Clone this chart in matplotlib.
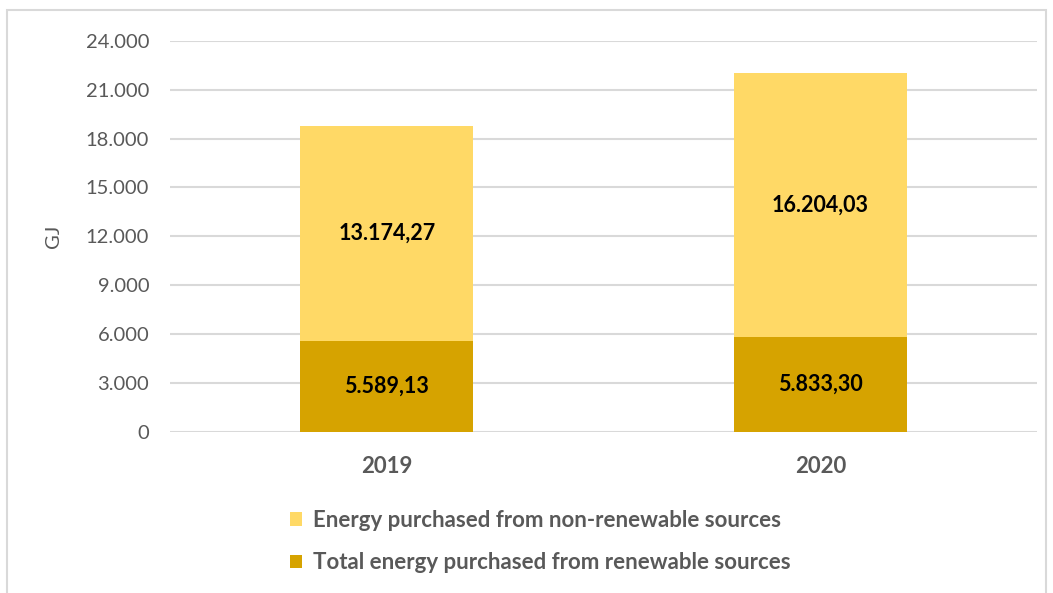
import matplotlib.pyplot as plt
from matplotlib.patches import Rectangle

plt.rcParams['font.family'] = ['Lato', 'DejaVu Sans']

years = ['2019', '2020']
renewable = [5589.13, 5833.30]
non_renewable = [13174.27, 16204.03]
yticks = [0, 3000, 6000, 9000, 12000, 15000, 18000, 21000, 24000]

label_top = 'Energy purchased from non-renewable sources'
label_bottom = 'Total energy purchased from renewable sources'

c_light = '#FFD966'
c_dark = '#D6A300'
grey_txt = '#595959'


def fmt_eu(v, dec=2):
    s = f'{v:,.{dec}f}'
    return s.replace(',', 'X').replace('.', ',').replace('X', '.')


fig = plt.figure(figsize=(10.53, 5.93), dpi=100)
ax = fig.add_axes([170 / 1053, 1 - 432 / 593, 867 / 1053, (432 - 40.7) / 593])

x = range(len(years))
b1 = ax.bar(x, renewable, width=0.4, color=c_dark, zorder=2)
b2 = ax.bar(x, non_renewable, width=0.4, bottom=renewable, color=c_light, zorder=2)

for i in x:
    ax.text(i, renewable[i] / 2, fmt_eu(renewable[i]), ha='center', va='center',
            fontsize=15.5, fontweight='bold', color='black', zorder=3)
    ax.text(i, renewable[i] + non_renewable[i] / 2, fmt_eu(non_renewable[i]),
            ha='center', va='center', fontsize=15.5, fontweight='bold',
            color='black', zorder=3)

ax.set_xlim(-0.5, 1.5)
ax.set_ylim(0, 24000)
ax.set_yticks(yticks)
ax.set_yticklabels([fmt_eu(v, 0) for v in yticks], fontsize=14.5, color=grey_txt)
ax.set_xticks(list(x))
ax.set_xticklabels(years, fontsize=16, fontweight='bold', color=grey_txt)
ax.tick_params(axis='both', length=0)
ax.tick_params(axis='y', pad=15)
ax.tick_params(axis='x', pad=17)
ax.yaxis.grid(True, color='#D9D9D9', linewidth=1.5, zorder=0)
ax.set_axisbelow(True)
for s in ax.spines.values():
    s.set_visible(False)

ax.set_ylabel('GJ', fontsize=14.5, color=grey_txt, labelpad=17)

# legend, non-renewable listed first
fig.legend([b2, b1], [label_top, label_bottom], loc='upper left',
           bbox_to_anchor=(270 / 1053, 1 - 490 / 593), frameon=False,
           prop={'size': 16, 'weight': 'bold'}, labelcolor=grey_txt,
           handlelength=0.55, handleheight=0.55, handletextpad=0.5,
           labelspacing=0.95)

# chart area border
fig.patches.append(Rectangle((7 / 1053, -0.1), (1046 - 7) / 1053, 1.1 - 10 / 593,
                             transform=fig.transFigure, fill=False,
                             edgecolor='#D9D9D9', linewidth=1.5))

fig.savefig('out.png', dpi=100)
